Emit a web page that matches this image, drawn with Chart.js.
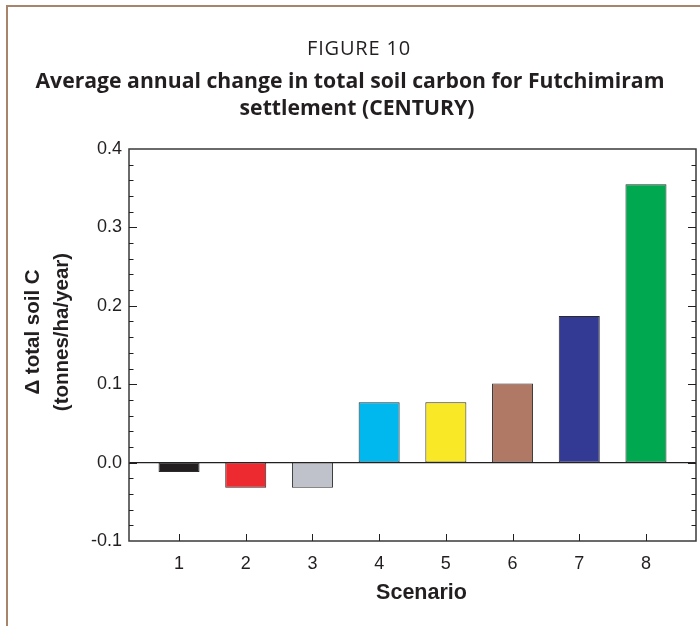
<!DOCTYPE html>
<html>
<head>
<meta charset="utf-8">
<title>Figure 10</title>
<script src="https://cdn.jsdelivr.net/npm/chart.js@4.4.1/dist/chart.umd.min.js"></script>
<style>
  html, body { margin: 0; padding: 0; background: #fff; }
  #page { position: relative; width: 700px; height: 626px; overflow: hidden; }
  #chart { position: absolute; left: 0; top: 0; }
  #frame {
    position: absolute; left: 6px; top: 5px; width: 760px; height: 700px;
    border-left: 2px solid #a8846a; border-top: 2px solid #a8846a;
  }
  .fig-title {
    position: absolute; width: 700px; text-align: center; white-space: nowrap;
    font-family: 'Open Sans', sans-serif; color: #231f20; margin: 0;
  }
  #t1 { left: 9px; top: 34px; font-size: 20px; font-weight: 400; letter-spacing: 0.8px; }
  #t2 { left: 0px; top: 66px; font-size: 21.2px; font-weight: 700; line-height: 27px; }
  #t3 { left: 7px; top: 93px; font-size: 21.2px; font-weight: 700; line-height: 27px; }
</style>
</head>
<body>
<div id="page">
  <canvas id="chart" width="700" height="626"></canvas>
  <div id="frame"></div>
  <div class="fig-title" id="t1">FIGURE 10</div>
  <div class="fig-title" id="t2">Average annual change in total soil carbon for Futchimiram</div>
  <div class="fig-title" id="t3">settlement (CENTURY)</div>
</div>
<script>
/* ---- data ---- */
const SCENARIOS     = [1, 2, 3, 4, 5, 6, 7, 8];
const SOIL_C_CHANGE = [-0.012, -0.032, -0.032, 0.077, 0.077, 0.101, 0.187, 0.355];
const BAR_COLORS    = ['#231f20', '#ed2a2f', '#bfc2ca', '#00b7ee', '#f8e825', '#b07966', '#323a93', '#00a84f'];
const Y_MIN = -0.1, Y_MAX = 0.4, Y_STEP = 0.1, Y_MINOR = 0.02;
const Y_TITLE = ['\u0394 total soil C', '(tonnes/ha/year)'];
const X_TITLE = 'Scenario';

const INK = '#231f20';
const AXIS_FONT = 'Liberation Sans, Arial, Helvetica, sans-serif';

/* ---- frame, inward ticks, zero line, axis titles ---- */
const framePlugin = {
  id: 'frame',
  beforeDatasetsDraw(chart) {
    const { ctx, chartArea: a, scales: { y } } = chart;
    const y0 = y.getPixelForValue(0);
    ctx.save();
    ctx.strokeStyle = INK;
    ctx.lineWidth = 1.2;
    ctx.beginPath();
    ctx.moveTo(a.left, y0);
    ctx.lineTo(a.right, y0);
    ctx.stroke();
    ctx.restore();
  },
  afterDraw(chart) {
    const { ctx, chartArea: a, scales: { x, y } } = chart;
    ctx.save();
    ctx.strokeStyle = '#3a3a3a';
    ctx.lineWidth = 1.5;
    ctx.strokeRect(a.left, a.top, a.right - a.left, a.bottom - a.top);

    ctx.strokeStyle = INK;
    ctx.lineWidth = 1;
    ctx.beginPath();
    const n = Math.round((Y_MAX - Y_MIN) / Y_MINOR);
    for (let i = 1; i < n; i++) {
      const v = Y_MIN + i * Y_MINOR;
      const major = i % Math.round(Y_STEP / Y_MINOR) === 0;
      const len = major ? 8 : 4.5;
      const py = Math.round(y.getPixelForValue(v)) + 0.5;
      ctx.moveTo(a.left, py);  ctx.lineTo(a.left + len, py);
      ctx.moveTo(a.right, py); ctx.lineTo(a.right - len, py);
    }
    SCENARIOS.forEach(s => {
      const px = Math.round(x.getPixelForValue(s)) + 0.5;
      ctx.moveTo(px, a.bottom); ctx.lineTo(px, a.bottom - 7);
    });
    ctx.stroke();

    ctx.fillStyle = INK;
    ctx.textAlign = 'center';
    ctx.textBaseline = 'middle';

    // x axis title
    ctx.font = 'bold 21.5px ' + AXIS_FONT;
    ctx.fillText(X_TITLE, 421.5, 593);

    // y axis title, two rotated lines
    ctx.font = 'bold 20.5px ' + AXIS_FONT;
    ctx.translate(33, 332);
    ctx.rotate(-Math.PI / 2);
    Y_TITLE.forEach((t, i) => ctx.fillText(t, 0, i * 29));
    ctx.restore();
  }
};

new Chart(document.getElementById('chart'), {
  type: 'bar',
  data: {
    datasets: [{
      data: SCENARIOS.map((s, i) => ({ x: s, y: SOIL_C_CHANGE[i] })),
      backgroundColor: BAR_COLORS,
      borderColor: '#2b2b2b',
      borderWidth: 1,
      borderSkipped: false,
      barPercentage: 0.615,
      categoryPercentage: 1
    }]
  },
  options: {
    responsive: false,
    animation: false,
    layout: { padding: { top: 149, right: 4, left: 0, bottom: 0 } },
    plugins: {
      legend: { display: false },
      tooltip: { enabled: false }
    },
    scales: {
      x: {
        type: 'linear',
        offset: false,
        min: 0.25,
        max: 8.75,
        afterBuildTicks: s => { s.ticks = SCENARIOS.map(v => ({ value: v })); },
        afterFit: s => { s.height = 85; },
        grid: { display: false, drawTicks: false },
        border: { display: false },
        ticks: { color: INK, padding: 12, font: { family: AXIS_FONT, size: 18 } }
      },
      y: {
        min: Y_MIN,
        max: Y_MAX,
        afterFit: s => { s.width = 129; },
        grid: { display: false, drawTicks: false },
        border: { display: false },
        ticks: {
          stepSize: Y_STEP,
          padding: 7,
          color: INK,
          font: { family: AXIS_FONT, size: 18 },
          callback: v => v.toFixed(1)
        }
      }
    }
  },
  plugins: [framePlugin]
});
</script>
</body>
</html>
